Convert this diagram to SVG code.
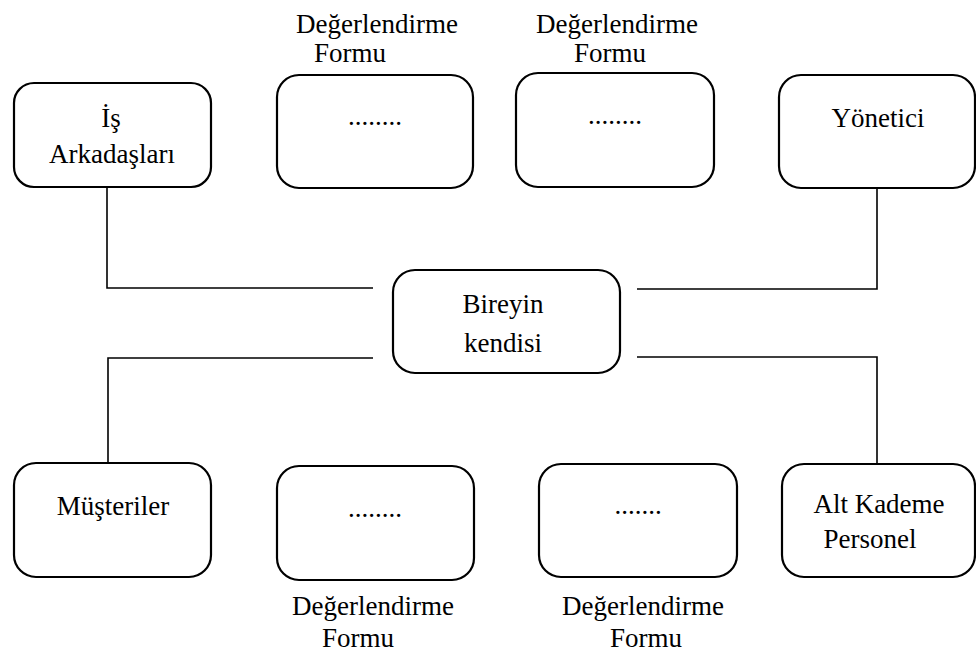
<svg xmlns="http://www.w3.org/2000/svg" width="976" height="657" viewBox="0 0 976 657">
<style>
.box{fill:#fff;stroke:#000;stroke-width:2.2}
.c{fill:none;stroke:#000;stroke-width:1.6}
</style>
<rect width="976" height="657" fill="#fff"/>
<g id="connectors">
<polyline class="c" points="107,187 107,288 373,288"/>
<polyline class="c" points="637,289 877,289 877,188"/>
<polyline class="c" points="373,358 108,358 108,463"/>
<polyline class="c" points="637,357 877,357 877,464"/>
</g>
<g font-family="'Liberation Serif', 'DejaVu Serif', serif" font-size="27" fill="#000" text-anchor="middle">
<g id="is-arkadaslari">
<rect class="box" x="14" y="83" width="197" height="104" rx="20"/>
<text x="111" y="127">İş</text>
<text x="112" y="163">Arkadaşları</text>
</g>
<g id="form-top-1">
<text x="377" y="33">Değerlendirme</text>
<text x="350" y="62">Formu</text>
<rect class="box" x="277" y="75" width="196" height="113" rx="22"/>
<text x="375" y="125">........</text>
</g>
<g id="form-top-2">
<text x="617" y="33">Değerlendirme</text>
<text x="610" y="62">Formu</text>
<rect class="box" x="516" y="73" width="198" height="114" rx="22"/>
<text x="615" y="124">........</text>
</g>
<g id="yonetici">
<rect class="box" x="779" y="75" width="196" height="113" rx="22"/>
<text x="878" y="127">Yönetici</text>
</g>
<g id="bireyin-kendisi">
<rect class="box" x="393" y="270" width="227" height="103" rx="22"/>
<text x="503" y="313">Bireyin</text>
<text x="503" y="352">kendisi</text>
</g>
<g id="musteriler">
<rect class="box" x="14" y="463" width="197" height="114" rx="22"/>
<text x="113" y="515">Müşteriler</text>
</g>
<g id="form-bottom-1">
<rect class="box" x="277" y="466" width="197" height="114" rx="22"/>
<text x="375" y="517">........</text>
<text x="373" y="615">Değerlendirme</text>
<text x="358" y="647">Formu</text>
</g>
<g id="form-bottom-2">
<rect class="box" x="539" y="464" width="198" height="113" rx="22"/>
<text x="638" y="514">.......</text>
<text x="643" y="615">Değerlendirme</text>
<text x="646" y="647">Formu</text>
</g>
<g id="alt-kademe">
<rect class="box" x="782" y="464" width="193" height="113" rx="22"/>
<text x="879" y="513">Alt Kademe</text>
<text x="870" y="548">Personel</text>
</g>
</g>
</svg>
